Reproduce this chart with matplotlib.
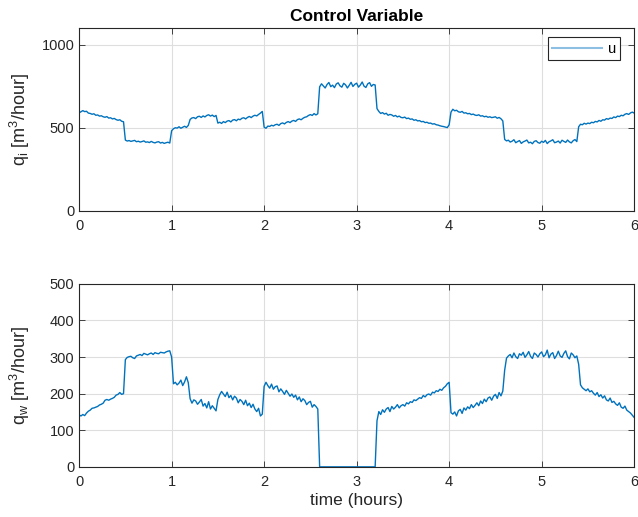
import numpy as np
import matplotlib.pyplot as plt

plt.rcParams['font.family'] = ['Liberation Sans', 'DejaVu Sans']
plt.rcParams['mathtext.fontset'] = 'custom'
plt.rcParams['mathtext.rm'] = 'Liberation Sans'
plt.rcParams['mathtext.it'] = 'Liberation Sans'

# tempo em horas, passo de 0.02
t = np.round(np.arange(0, 301) * 0.02, 2)

# vazão de entrada q_i (25 por meia hora)
q_i = [
    590, 596, 603, 597, 599, 588, 586, 581, 584, 575, 577, 570, 572, 566, 563, 567, 558, 560, 553, 556, 549, 545, 548, 539, 536,
    426, 420, 423, 418, 421, 424, 416, 419, 414, 417, 421, 413, 415, 411, 418, 412, 409, 414, 416, 408, 412, 406, 410, 413, 408,
    482, 494, 500, 498, 506, 497, 503, 509, 502, 514, 550, 559, 561, 555, 566, 569, 562, 571, 565, 574, 578, 570, 576, 567, 574,
    528, 533, 526, 537, 531, 540, 543, 535, 546, 549, 542, 552, 548, 557, 560, 553, 562, 568, 561, 570, 575, 571, 580, 588, 598,
    503, 497, 510, 508, 515, 511, 518, 521, 514, 525, 529, 523, 532, 537, 531, 540, 544, 538, 549, 553, 548, 557, 563, 566, 574,
    579, 574, 585, 577, 584, 746, 764, 751, 739, 760, 772, 747, 756, 741, 763, 770, 752, 744, 767, 758, 739, 755, 773, 748, 761,
    768, 744, 757, 775, 750, 742, 764, 771, 749, 760, 757, 615, 598, 586, 591, 582, 587, 575, 580, 577, 569, 574, 565, 570, 562,
    560, 564, 555, 558, 551, 553, 545, 548, 541, 543, 536, 538, 531, 533, 527, 528, 522, 524, 518, 516, 512, 509, 507, 504, 501,
    518, 594, 611, 602, 605, 596, 593, 598, 588, 590, 584, 586, 579, 582, 576, 574, 578, 570, 572, 566, 569, 563, 566, 561, 563,
    566, 557, 562, 554, 541, 430, 421, 425, 414, 419, 428, 410, 417, 423, 406, 415, 420, 426, 409, 413, 404, 418, 422, 411, 407,
    419, 412, 424, 405, 416, 421, 428, 410, 414, 420, 408, 425, 418, 412, 426, 415, 409, 422, 429, 417, 506, 521, 518, 527, 522,
    528, 525, 533, 530, 538, 535, 544, 539, 548, 546, 555, 551, 558, 556, 565, 561, 570, 567, 575, 572, 581, 585, 580, 589, 594,
    588,
]

# vazão de retirada q_w
q_w = [
    142, 139, 143, 140, 147, 152, 155, 160, 161, 163, 165, 169, 171, 174, 182, 184, 182, 185, 187, 190, 196, 198, 203, 198, 200,
    293, 299, 301, 302, 298, 296, 303, 305, 307, 304, 310, 308, 306, 309, 311, 307, 312, 310, 309, 313, 312, 311, 314, 316, 317,
    300, 227, 231, 224, 229, 237, 222, 232, 246, 230, 186, 174, 183, 180, 171, 177, 184, 166, 173, 161, 178, 158, 167, 160, 153,
    184, 197, 206, 199, 192, 204, 189, 195, 183, 193, 188, 175, 184, 179, 170, 182, 167, 174, 162, 171, 158, 151, 160, 139, 144,
    220, 231, 222, 215, 226, 212, 219, 221, 205, 213, 206, 198, 209, 201, 193, 199, 190, 196, 183, 191, 178, 186, 181, 170, 176,
    179, 163, 170, 165, 158,
    0, 0, 0, 0, 0,
    0, 0, 0, 0, 0,
    0, 0, 0, 0, 0,
    0, 0, 0, 0, 0,
    0, 0, 0, 0, 0, 0, 0, 0, 0, 0, 0, 126, 151, 143, 156, 149, 158, 162, 151, 165, 158, 163, 170, 161, 167,
    170, 166, 175, 172, 178, 176, 183, 181, 185, 189, 187, 195, 191, 197, 199, 196, 204, 202, 208, 206, 212, 209, 216, 220, 227,
    231, 148, 144, 150, 139, 153, 157, 146, 161, 155, 164, 159, 170, 162, 168, 175, 167, 180, 173, 185, 178, 188, 191, 182, 193,
    198, 187, 203, 194, 207, 264, 297, 303, 307, 298, 311, 301, 296, 309, 305, 313, 299, 306, 315, 302, 296, 311, 307, 300, 309,
    314, 301, 306, 319, 298, 308, 312, 296, 304, 316, 303, 299, 310, 317, 301, 295, 311, 306, 298, 303, 280, 224, 216, 212, 208,
    213, 205, 208, 201, 196, 203, 192, 197, 188, 194, 183, 180, 188, 176, 179, 172, 168, 175, 163, 160, 166, 155, 151, 147, 141,
    135,
]

cor = '#0072BD'
cinza = '#262626'

fig = plt.figure(figsize=(6.38, 5.17), dpi=100)
ax1 = fig.add_axes([0.124, 0.592, 0.870, 0.354])
ax2 = fig.add_axes([0.124, 0.097, 0.870, 0.354])

ax1.plot(t, q_i, color=cor, lw=1, label='u')
ax2.plot(t, q_w, color=cor, lw=1)

ax1.set_ylim(0, 1100)
ax1.set_yticks([0, 500, 1000])
ax2.set_ylim(0, 500)
ax2.set_yticks([0, 100, 200, 300, 400, 500])

for ax in (ax1, ax2):
    ax.set_xlim(0, 6)
    ax.set_xticks(range(7))
    ax.grid(True, color='#dedede', lw=0.8)
    ax.set_axisbelow(True)
    ax.tick_params(direction='in', top=True, right=True, length=4,
                   labelsize=10.5, colors=cinza, width=0.6)
    ax.tick_params(axis='x', pad=6)
    for s in ax.spines.values():
        s.set_color(cinza)
        s.set_linewidth(0.8)

ax1.set_title('Control Variable', fontsize=12.5, fontweight='bold', color='black', pad=5)
ax1.set_ylabel(r'q$_\mathrm{i}$ [m$^3$/hour]', fontsize=13, color=cinza)
ax2.set_ylabel(r'q$_\mathrm{w}$ [m$^3$/hour]', fontsize=13, color=cinza)
ax2.set_xlabel('time (hours)', fontsize=12.5, color=cinza, labelpad=3)
ax1.yaxis.set_label_coords(-0.085, 0.5)
ax2.yaxis.set_label_coords(-0.085, 0.5)

leg = ax1.legend(loc='upper right', fontsize=10.5, handlelength=3.4, handletextpad=0.4,
                 borderpad=0.3, fancybox=False, framealpha=1, edgecolor=cinza,
                 bbox_to_anchor=(0.988, 0.988))
leg.get_frame().set_linewidth(0.8)
leg.get_lines()[0].set_alpha(0.45)
leg.get_lines()[0].set_linewidth(1.5)

fig.savefig('out.png', dpi=100)
